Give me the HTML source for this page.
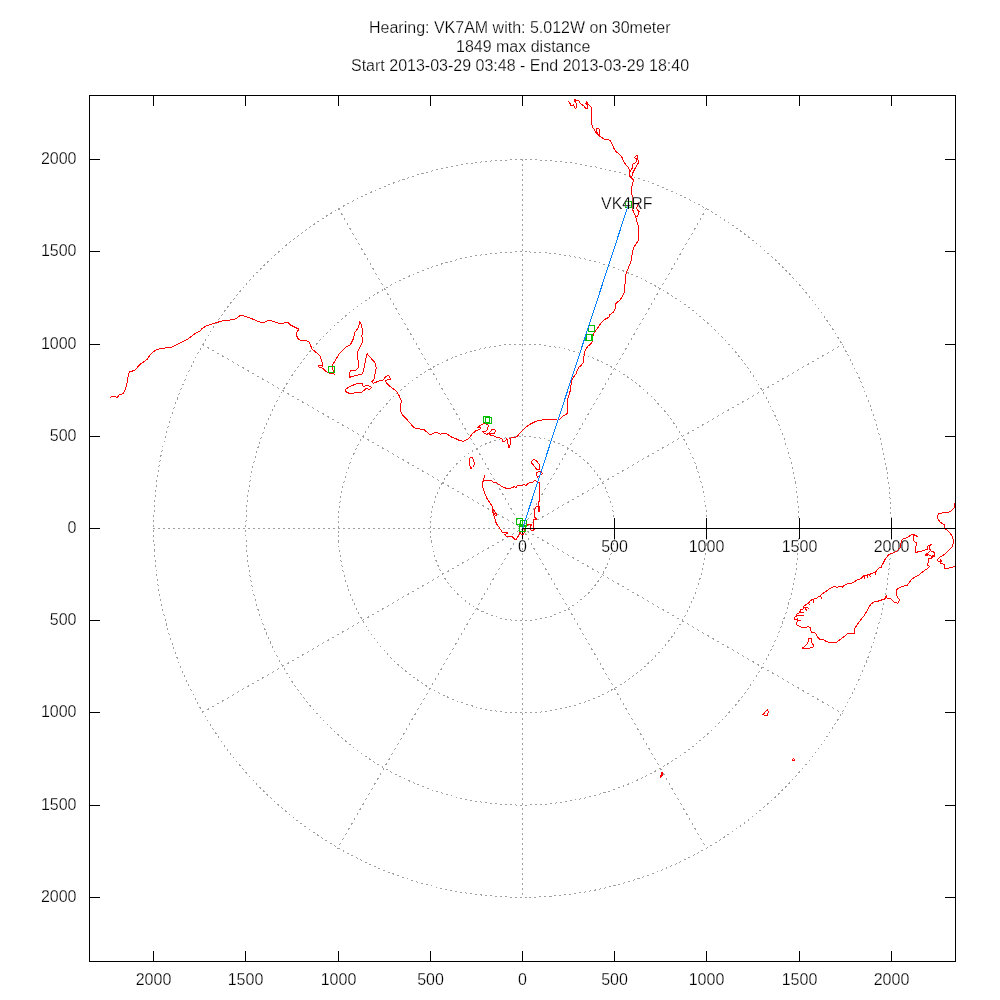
<!DOCTYPE html><html><head><meta charset="utf-8"><style>html,body{margin:0;padding:0;background:#fff;}svg{display:block;will-change:transform;font-family:"Liberation Sans",sans-serif;font-size:16px;}</style></head><body><svg width="1000" height="1000" viewBox="0 0 1000 1000"><rect width="1000" height="1000" fill="#fff"/><g fill="none" stroke="#a0a0a0" stroke-width="1" stroke-dasharray="2 3" shape-rendering="crispEdges"><circle cx="522.5" cy="528.5" r="92.20"/><circle cx="522.5" cy="528.5" r="184.40"/><circle cx="522.5" cy="528.5" r="276.60"/><circle cx="522.5" cy="528.5" r="368.80"/><line x1="522.000" y1="528.788" x2="843.000" y2="344.212" stroke-dasharray="2.3071 3.4606"/><line x1="706.788" y1="208.000" x2="522.212" y2="529.000" stroke-dasharray="2.3071 3.4606"/><line x1="522.500" y1="159.000" x2="522.500" y2="529.000" stroke-dasharray="2.0000 3.0000"/><line x1="338.212" y1="208.000" x2="522.788" y2="529.000" stroke-dasharray="2.3071 3.4606"/><line x1="202.000" y1="344.212" x2="523.000" y2="528.788" stroke-dasharray="2.3071 3.4606"/><line x1="153.000" y1="528.500" x2="523.000" y2="528.500" stroke-dasharray="2.0000 3.0000"/><line x1="202.000" y1="712.788" x2="523.000" y2="528.212" stroke-dasharray="2.3071 3.4606"/><line x1="522.789" y1="528.000" x2="337.211" y2="849.000" stroke-dasharray="2.3102 3.4653"/><line x1="522.500" y1="528.000" x2="522.500" y2="898.000" stroke-dasharray="2.0000 3.0000"/><line x1="522.212" y1="528.000" x2="706.788" y2="849.000" stroke-dasharray="2.3071 3.4606"/><line x1="522.000" y1="528.211" x2="843.000" y2="713.789" stroke-dasharray="2.3102 3.4653"/></g><g fill="none" stroke="#000" stroke-width="1" shape-rendering="crispEdges"><rect x="89.5" y="95.5" width="866" height="866"/><path d="M89 897.5h11M956 897.5h-11M153.5 95v11M153.5 962v-11"/><path d="M89 805.5h11M956 805.5h-11M245.5 95v11M245.5 962v-11"/><path d="M89 712.5h11M956 712.5h-11M338.5 95v11M338.5 962v-11"/><path d="M89 620.5h11M956 620.5h-11M430.5 95v11M430.5 962v-11"/><path d="M89 528.5h11M956 528.5h-11M522.5 95v11M522.5 962v-11"/><path d="M89 436.5h11M956 436.5h-11M614.5 95v11M614.5 962v-11"/><path d="M89 344.5h11M956 344.5h-11M706.5 95v11M706.5 962v-11"/><path d="M89 251.5h11M956 251.5h-11M799.5 95v11M799.5 962v-11"/><path d="M89 159.5h11M956 159.5h-11M891.5 95v11M891.5 962v-11"/><path d="M522.5 518V539"/><path d="M614.5 518V539"/><path d="M706.5 518V539"/><path d="M799.5 518V539"/><path d="M891.5 518V539"/></g><g fill="#000" stroke="#fff" stroke-width="0.25"><text x="76.5" y="902" text-anchor="end">2000</text><text x="153.5" y="985" text-anchor="middle">2000</text><text x="76.5" y="810" text-anchor="end">1500</text><text x="245.5" y="985" text-anchor="middle">1500</text><text x="76.5" y="717" text-anchor="end">1000</text><text x="338.5" y="985" text-anchor="middle">1000</text><text x="76.5" y="625" text-anchor="end">500</text><text x="430.5" y="985" text-anchor="middle">500</text><text x="76.5" y="533" text-anchor="end">0</text><text x="522.5" y="985" text-anchor="middle">0</text><text x="76.5" y="441" text-anchor="end">500</text><text x="614.5" y="985" text-anchor="middle">500</text><text x="76.5" y="349" text-anchor="end">1000</text><text x="706.5" y="985" text-anchor="middle">1000</text><text x="76.5" y="256" text-anchor="end">1500</text><text x="799.5" y="985" text-anchor="middle">1500</text><text x="76.5" y="164" text-anchor="end">2000</text><text x="891.5" y="985" text-anchor="middle">2000</text><text x="522.5" y="552" text-anchor="middle">0</text><text x="614.5" y="552" text-anchor="middle">500</text><text x="706.5" y="552" text-anchor="middle">1000</text><text x="799.5" y="552" text-anchor="middle">1500</text><text x="891.5" y="552" text-anchor="middle">2000</text><text x="369" y="33">Hearing: VK7AM with: 5.012W on 30meter</text><text x="456" y="52">1849 max distance</text><text x="351" y="71">Start 2013-03-29 03:48 - End 2013-03-29 18:40</text></g><g fill="none" stroke="#ff0000" stroke-width="1" stroke-linejoin="round" shape-rendering="crispEdges">
<path d="M110.0 397.5 L112.0 396.3 L115.5 396.5 L117.0 397.5 L118.0 396.5 L119.5 394.5 L122.5 394.0 L124.5 391.5 L126.0 387.0 L127.5 381.0 L128.5 374.0 L130.0 371.5 L132.0 371.2 L135.0 370.0 L140.0 364.5 L142.0 363.0 L147.0 359.5 L148.0 358.0 L151.0 354.0 L155.0 350.5 L157.0 349.3 L162.0 348.5 L168.0 347.5 L172.0 347.0 L176.0 345.0 L182.0 342.0 L187.0 339.5 L192.0 336.0 L196.0 333.0 L200.0 331.0 L202.0 328.6 L205.3 326.4 L208.6 325.1 L213.0 323.7 L218.5 322.0 L222.9 320.6 L228.4 320.4 L231.7 319.6 L236.1 318.9 L239.4 316.0 L241.6 315.4 L244.9 316.3 L250.4 318.2 L255.9 320.4 L260.3 322.3 L263.6 322.6 L267.5 320.6 L270.2 320.4 L274.6 322.0 L279.0 323.3 L282.3 323.3 L285.6 322.6 L288.0 322.6 L290.4 325.0 L294.0 326.8 L298.8 329.2 L297.0 332.2 L296.4 335.2 L298.2 338.8 L301.2 340.6 L306.0 340.6 L309.0 341.8 L310.8 346.0 L312.0 349.0 L316.2 352.6 L318.6 354.4 L320.4 356.8 L322.2 362.8 L322.8 366.4 L320.4 365.4 L318.6 365.8 L319.2 367.4 L322.8 368.2 L325.8 371.2 L328.8 373.0 L332.4 373.0 L334.2 374.2 L333.0 370.0 L332.4 365.2 L335.4 360.4 L338.4 355.0 L342.0 350.8 L345.6 347.2 L350.4 344.8 L353.4 338.8 L354.6 332.8 L358.8 326.8 L359.4 321.4 L360.6 323.2 L361.8 326.8 L363.0 331.6 L361.8 335.8 L363.0 341.2 L359.4 348.4 L357.6 352.0 L358.2 362.8 L358.2 367.6 L356.4 370.0 L350.4 370.6 L349.2 374.8 L349.8 377.2 L356.4 375.4 L361.8 374.2 L363.0 372.4 L364.8 364.0 L366.0 358.0 L367.2 353.8 L370.8 358.0 L375.0 362.8 L376.2 367.6 L375.6 372.4 L375.0 374.3 L373.9 379.3 L371.7 382.0 L373.3 383.3 L376.6 382.0 L381.0 380.4 L383.8 379.8 L384.9 377.6 L387.6 375.4 L389.8 376.5 L390.4 379.8 L387.6 379.8 L384.9 380.9 L387.1 383.7 L389.8 386.4 L393.1 388.6 L396.4 391.4 L399.2 395.8 L401.4 400.7 L400.6 405.1 L400.3 409.5 L401.4 413.4 L403.0 415.6 L407.4 420.0 L410.7 423.8 L413.5 427.1 L416.2 428.4 L420.6 429.1 L423.9 429.5 L426.1 431.5 L429.4 434.3 L431.6 434.3 L434.9 432.4 L437.1 432.6 L440.4 434.3 L442.6 433.2 L445.9 433.2 L448.1 434.8 L451.4 437.0 L455.8 438.7 L459.1 440.3 L463.5 441.4 L467.9 439.2 L470.1 437.0 L472.3 433.7 L475.6 431.0 L480.5 428.9 L481.0 427.8 L477.7 427.3 L481.0 425.0 L484.3 423.4 L487.6 424.5 L488.2 425.6 L487.6 428.9 L486.0 431.1 L482.7 431.7 L483.8 432.8 L486.5 434.4 L489.3 433.3 L492.0 429.5 L494.2 428.9 L495.9 431.1 L494.2 433.3 L491.5 433.3 L489.3 433.3 L490.4 435.0 L493.1 435.5 L496.4 437.2 L499.7 437.7 L501.9 438.8 L502.5 441.6 L505.2 441.0 L506.9 438.3 L508.0 444.0 L509.0 447.6 L510.5 444.0 L510.7 440.0 L509.6 438.3 L512.4 437.7 L515.1 437.2 L517.3 436.6 L520.0 432.8 L523.9 428.9 L527.2 426.2 L531.6 423.4 L534.9 421.8 L538.2 420.7 L542.6 419.8 L547.0 419.2 L552.5 419.6 L557.5 420.1 L559.1 419.6 L563.5 415.7 L567.4 413.5 L567.4 400.3 L569.0 394.8 L570.7 389.3 L571.0 385.0 L571.5 381.0 L573.0 378.0 L576.0 374.0 L577.0 371.0 L578.5 367.5 L580.5 366.0 L583.0 363.0 L583.0 361.0 L584.0 356.0 L584.5 352.0 L586.5 348.5 L588.0 346.0 L589.5 345.0 L591.0 343.5 L592.5 341.5 L592.5 337.0 L593.5 334.0 L595.5 331.0 L599.0 326.0 L601.5 322.5 L604.5 319.5 L607.5 318.0 L609.0 317.0 L610.0 314.5 L613.5 312.0 L615.5 308.0 L616.0 303.5 L620.0 300.0 L622.0 297.0 L624.0 293.0 L624.5 288.0 L625.0 284.0 L625.5 277.0 L626.0 274.0 L627.5 270.0 L630.0 264.0 L631.5 259.0 L632.5 251.5 L633.5 248.0 L636.0 244.0 L638.5 240.5 L638.5 226.5 L636.5 220.0 L635.5 216.5 L634.0 213.0 L632.0 208.0 L632.0 200.0 L632.0 194.6 L631.4 193.2 L631.4 186.5 L632.3 185.6 L632.6 182.4 L633.5 181.0 L633.0 179.5 L630.3 177.0 L629.4 174.0 L630.3 171.6 L632.3 168.0 L632.3 164.4 L634.8 163.0 L636.2 161.9 L636.4 159.0 L634.4 157.4 L636.2 155.6 L637.5 155.4 L637.7 159.5 L638.6 160.4 L638.6 162.6 L637.5 164.0 L635.3 168.0 L633.0 172.5 L631.7 176.6 L630.3 177.0 L629.4 175.7 L629.4 170.7 L629.0 168.9 L628.3 167.6 L626.3 165.3 L624.5 163.0 L623.3 160.8 L622.4 159.0 L621.8 156.8 L620.0 155.0 L618.2 153.2 L616.8 152.3 L615.5 150.9 L614.5 149.5 L612.0 144.0 L610.0 140.5 L607.0 139.0 L604.0 139.0 L600.0 136.5 L598.5 135.0 L599.5 134.0 L600.0 131.5 L598.5 128.0 L596.0 128.0 L597.0 132.5 L598.5 135.0 L596.0 133.0 L594.5 130.0 L592.5 127.0 L591.8 123.5 L591.6 108.4 L590.4 106.2 L588.0 104.0 L586.4 101.4 L586.4 103.0 L585.4 103.4 L587.4 104.4 L587.6 107.4 L587.2 108.6 L586.0 108.4 L583.6 105.8 L581.2 104.2 L579.6 102.4 L578.4 100.2 L576.0 100.2 L575.4 99.2 L574.2 99.4 L574.4 101.2 L575.0 100.4 L575.6 101.4 L576.4 105.2 L576.4 107.6 L575.4 108.6 L574.4 106.5 L573.4 104.4 L573.0 105.0 L570.5 105.0 L570.0 103.5 L568.2 101.2"/>
<path d="M345.6 389.2 L349.2 386.8 L356.4 383.8 L362.4 383.4 L363.0 386.2 L368.4 385.6 L371.4 387.4 L369.6 389.2 L366.0 388.6 L361.2 392.8 L356.4 392.8 L349.2 393.4 L345.6 391.6 L345.6 389.2"/>
<path d="M638.2 202.0 L637.5 205.0 L636.5 208.5 L638.0 210.5 L639.3 211.5 L638.5 214.0 L637.5 216.0 L635.5 216.5"/>
<path d="M470.0 458.0 L472.0 457.5 L473.5 460.0 L474.5 464.5 L472.5 467.5 L470.5 468.5 L469.5 463.5 L470.0 458.0"/>
<path d="M532.0 461.0 L534.0 459.0 L537.0 461.5 L539.5 465.0 L540.0 469.0 L538.0 470.0 L536.0 468.5 L533.5 465.0 L531.5 463.0 L532.0 461.0"/>
<path d="M536.0 472.5 L540.0 471.5 L542.5 473.5 L540.0 475.0 L537.5 477.0 L536.5 475.0 L536.0 472.5"/>
<path d="M484.0 474.5 L484.0 478.0 L483.5 480.0 L486.5 480.5 L490.0 481.0 L491.5 480.5 L493.0 482.0 L496.0 482.5 L499.0 484.5 L502.0 486.5 L504.0 487.5 L507.0 488.5 L510.0 488.5 L512.5 487.5 L514.5 486.5 L516.0 488.0 L517.0 486.0 L519.0 485.5 L522.0 485.5 L524.5 484.5 L526.0 485.5 L528.0 483.5 L530.0 482.5 L533.0 482.0 L535.0 480.5 L537.0 481.5 L539.0 482.5 L539.5 484.0 L539.5 500.0 L538.5 503.0 L539.0 506.0 L539.0 511.5 L538.5 506.0 L537.0 506.0 L535.5 508.0 L534.5 510.0 L534.5 517.0 L536.5 519.0 L534.0 519.5 L533.5 521.0 L533.5 525.0 L533.0 527.0 L534.5 529.0 L533.0 530.5 L531.0 530.0 L530.0 528.0 L530.5 526.0 L531.5 525.0 L530.0 524.0 L528.0 524.0 L527.0 526.0 L526.0 526.0 L525.5 528.0 L524.0 529.5 L524.0 533.0 L523.0 535.0 L521.0 534.0 L520.0 532.0 L519.5 534.5 L518.0 536.5 L516.5 539.0 L515.0 539.5 L512.5 537.0 L510.0 536.0 L508.0 536.5 L506.0 536.0 L505.0 534.5 L507.5 533.0 L504.0 532.5 L502.0 532.0 L500.5 529.5 L499.0 527.0 L496.5 524.0 L495.5 521.0 L494.5 517.0 L493.0 513.0 L492.5 509.0 L492.0 506.0 L490.0 503.0 L487.5 499.5 L485.5 495.0 L484.0 491.0 L482.5 486.0 L482.5 483.0 L483.5 480.0"/>
<path d="M493.0 509.0 L495.0 512.0 L497.0 515.0 L495.5 515.5 L493.5 512.0"/>
<path d="M955.0 503.0 L954.5 505.0 L954.0 508.0 L951.0 511.0 L948.0 512.5 L943.0 512.8 L939.0 513.5 L937.5 515.5 L937.5 518.5 L940.0 522.0 L944.0 524.5 L945.0 528.5 L949.0 532.0 L951.5 535.0 L953.0 539.0 L953.5 543.0 L952.0 547.0 L948.0 551.0 L945.0 554.0 L942.6 555.6 L939.4 557.6 L937.4 559.6 L938.2 561.2 L940.2 561.6 L941.0 559.6 L941.4 561.4 L940.6 563.2 L942.6 563.6 L944.6 565.2 L944.6 568.8 L948.0 568.5 L950.5 567.5 L953.0 567.0 L955.0 566.5"/>
<path d="M905.0 585.8 L901.4 587.0 L898.4 588.2 L896.0 590.6 L896.6 593.6 L897.2 597.2 L899.0 599.0 L899.0 601.4 L897.8 603.2 L894.8 602.6 L893.0 600.8 L890.6 598.4 L887.0 598.4 L886.4 595.0 L885.5 598.6 L884.6 599.0 L881.0 600.2 L877.4 601.4 L873.8 602.0 L871.4 603.8 L869.0 606.8 L866.6 611.6 L863.6 616.4 L860.6 620.0 L857.0 624.8 L854.6 629.0 L854.6 633.2 L847.4 633.2 L845.6 635.6 L839.6 639.8 L836.0 642.6 L829.4 642.6 L826.4 641.6 L823.4 639.8 L819.8 639.2 L817.4 636.8 L815.6 633.2 L811.4 632.0 L810.4 630.0 L810.0 627.4 L808.0 626.4 L806.4 627.4 L801.6 627.4 L800.0 626.4 L797.6 625.4 L796.4 624.4 L796.6 622.8 L797.2 621.2 L797.2 620.4 L800.6 620.6 L797.2 620.4 L798.0 619.6 L797.6 618.6 L796.4 619.6 L794.4 619.6 L794.4 617.6 L795.2 616.4 L798.0 615.6 L803.6 615.4 L798.0 615.6 L796.4 614.4 L797.6 613.6 L799.2 612.8 L803.6 612.6 L799.2 612.4 L800.4 611.2 L800.8 609.8 L802.4 609.2 L803.6 608.4 L803.4 606.8 L805.2 607.4 L808.6 608.2 L805.2 607.4 L806.4 610.4 L805.2 607.4 L803.4 606.8 L804.4 605.6 L806.0 604.8 L807.4 603.4 L809.6 604.4 L807.4 603.4 L808.8 603.0 L809.4 601.4 L810.8 600.4 L812.8 599.4 L814.0 599.2 L813.4 602.4 L814.0 599.2 L814.4 598.6 L816.0 598.6 L817.6 597.4 L818.8 596.4 L820.4 595.8 L821.6 598.4 L820.4 595.8 L821.6 594.4 L822.8 593.4 L824.4 592.4 L826.0 591.4 L827.6 590.4 L828.4 589.7 L831.4 587.5 L835.0 586.4 L836.8 587.5 L839.2 586.4 L842.2 586.1 L842.8 587.4 L843.8 586.6 L842.2 586.1 L844.0 585.8 L845.8 584.6 L848.8 583.4 L851.8 583.1 L854.2 581.9 L856.0 580.7 L858.4 579.5 L861.4 578.3 L864.4 575.3 L864.4 578.3 L864.4 575.3 L866.8 575.3 L867.4 577.4 L866.8 575.3 L869.2 574.4 L870.4 576.5 L869.2 574.4 L872.2 573.5 L875.8 571.7 L875.5 574.7 L875.8 571.7 L877.6 569.6 L879.4 567.5 L881.2 567.2 L881.8 565.7 L883.6 562.4 L884.8 560.0 L886.0 558.0 L889.0 554.5 L893.0 553.0 L897.0 551.0 L900.0 548.0 L900.5 544.0 L902.0 540.0 L904.0 538.0 L905.0 538.6 L907.0 537.4 L909.0 536.4 L910.6 535.4 L912.4 534.2 L914.4 534.2 L915.4 535.4 L917.4 536.4 L915.4 535.4 L914.4 535.2 L913.4 536.4 L913.4 540.6 L914.6 541.6 L916.4 542.6 L916.4 545.6 L915.4 546.4 L915.4 552.2 L917.4 552.4 L918.2 551.4 L921.4 551.4 L922.6 550.4 L924.6 550.4 L925.8 549.4 L927.4 549.2 L927.4 546.8 L928.2 545.6 L930.2 545.4 L931.4 544.4 L930.2 545.4 L929.0 547.2 L929.0 549.6 L930.6 550.0 L929.8 551.6 L928.6 552.4 L927.0 553.6 L925.8 554.4 L925.4 555.6 L927.4 555.6 L927.2 554.0 L929.4 555.2 L931.4 556.4 L933.0 555.6 L934.6 556.0 L934.6 554.0 L933.8 552.0 L932.6 551.2 L931.4 551.2 L932.6 551.2 L933.8 552.0 L934.6 554.0 L934.6 556.0 L932.2 557.2 L931.0 558.4 L929.0 558.4 L928.2 559.6 L928.4 562.8 L927.4 563.6 L927.8 565.2 L929.4 566.4 L928.2 568.0 L925.8 569.6 L924.0 571.0 L921.0 573.0 L919.0 575.0 L915.0 577.0 L912.0 579.0 L909.5 582.0 L907.0 585.5 L905.0 585.8"/>
<path d="M802.4 648.2 L807.8 643.4 L808.4 638.6 L811.4 638.6 L812.0 642.8 L813.8 645.8 L812.6 647.4 L806.6 648.6 L802.4 648.2"/>
<path d="M767.6 709.6 L768.4 712.0 L766.8 716.0 L762.8 714.7 L765.2 712.0 L767.6 709.6"/>
<path d="M662.0 772.3 L662.8 774.4 L660.4 777.6 L661.2 774.4 L662.0 772.3"/>
<path d="M792.5 758.5 L794.0 758.5 L794.0 760.5 L792.5 760.5 L792.5 758.5"/>
</g>
<g fill="none" stroke="#00c000" stroke-width="1" shape-rendering="crispEdges">
<rect x="625.5" y="201.5" width="6" height="6"/>
<rect x="588.5" y="325.5" width="6" height="6"/>
<rect x="585.5" y="334.5" width="6" height="6"/>
<rect x="586.5" y="334.5" width="6" height="6"/>
<rect x="483.5" y="416.5" width="6" height="6"/>
<rect x="485.5" y="417.5" width="6" height="6"/>
<rect x="328.5" y="366.5" width="6" height="6"/>
<rect x="516.5" y="518.5" width="6" height="6"/>
<rect x="520.5" y="520.5" width="6" height="6"/>
<rect x="519.5" y="525.5" width="6" height="6"/>
</g>
<path d="M522.5 528.5L628.5 204.5" stroke="#0080ff" stroke-width="1" fill="none" shape-rendering="crispEdges"/><path d="M522 528.5H955" stroke="#000" stroke-width="1" fill="none" shape-rendering="crispEdges"/><text x="601" y="209" fill="#000" stroke="#fff" stroke-width="0.25">VK4RF</text></svg></body></html>
